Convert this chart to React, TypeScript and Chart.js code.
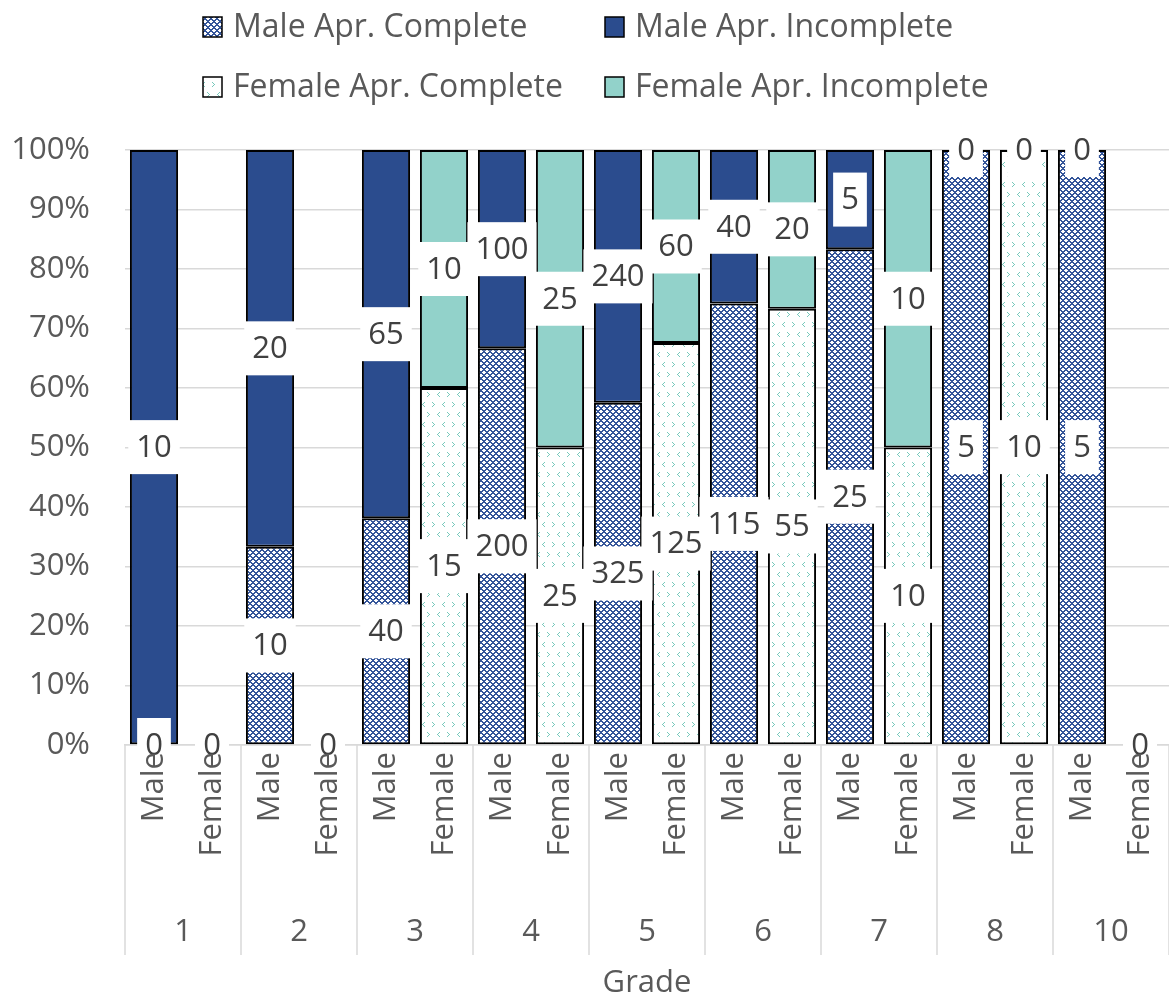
import React, { useEffect, useRef } from 'react';
import { Chart, registerables } from 'chart.js';
Chart.register(...registerables);

const grades = ['1', '2', '3', '4', '5', '6', '7', '8', '10'];
const genders = ['Male', 'Female'];
const maleComplete = [0, 10, 40, 200, 325, 115, 25, 5, 5];
const maleIncomplete = [10, 20, 65, 100, 240, 40, 5, 0, 0];
const femaleComplete = [0, 0, 15, 25, 125, 55, 10, 10, 0];
const femaleIncomplete = [0, 0, 10, 25, 60, 20, 10, 0, 0];
const seriesNames = ['Male Apr. Complete', 'Male Apr. Incomplete', 'Female Apr. Complete', 'Female Apr. Incomplete'];
const yTickStep = 10;

const FONT = '"Open Sans"';
const FS = 31;
const LEGEND_FS = 32;
const TEXT = '#595959';
const LABEL_TEXT = '#404040';
const GRID = '#D9D9D9';
const MALE_BLUE = '#2B4C8E';
const FEMALE_TEAL = '#92D2CA';

function malePattern(): CanvasPattern | string {
  const c = document.createElement('canvas');
  c.width = 6; c.height = 6;
  const g = c.getContext('2d');
  if (!g) return MALE_BLUE;
  g.fillStyle = '#ffffff';
  g.fillRect(0, 0, 6, 6);
  g.fillStyle = '#34559A';
  for (let y = 0; y < 6; y++) for (let x = 0; x < 6; x++) {
    const a = (x + y) % 6, b = (x - y + 6) % 6;
    if (a < 2 || b < 2) g.fillRect(x, y, 1, 1);
  }
  return g.createPattern(c, 'repeat') || MALE_BLUE;
}

function femalePattern(): CanvasPattern | string {
  const c = document.createElement('canvas');
  c.width = 20; c.height = 20;
  const g = c.getContext('2d');
  if (!g) return '#ffffff';
  g.fillStyle = '#ffffff';
  g.fillRect(0, 0, 20, 20);
  g.fillStyle = '#78C9BC';
  const lt = (x: number, y: number) => {
    g.fillRect(x + 2, y, 1, 1); g.fillRect(x + 1, y + 1, 1, 1); g.fillRect(x, y + 2, 1, 1);
    g.fillRect(x + 1, y + 3, 1, 1); g.fillRect(x + 2, y + 4, 1, 1);
  };
  const gt = (x: number, y: number) => {
    g.fillRect(x, y, 1, 1); g.fillRect(x + 1, y + 1, 1, 1); g.fillRect(x + 2, y + 2, 1, 1);
    g.fillRect(x + 1, y + 3, 1, 1); g.fillRect(x, y + 4, 1, 1);
  };
  lt(2, 2); gt(12, 2);
  gt(7, 12); lt(17, 12);
  return g.createPattern(c, 'repeat') || '#ffffff';
}

export default function App() {
  const ref = useRef<HTMLCanvasElement | null>(null);
  useEffect(() => {
    document.body.style.margin = '0';
    const canvas = ref.current;
    if (!canvas) return;
    const labels: string[] = [];
    const rawMC: (number | null)[] = [];
    const rawMI: (number | null)[] = [];
    const rawFC: (number | null)[] = [];
    const rawFI: (number | null)[] = [];
    grades.forEach((_, gi) => {
      genders.forEach((gd) => {
        labels.push(gd);
        if (gd === 'Male') {
          rawMC.push(maleComplete[gi]); rawMI.push(maleIncomplete[gi]);
          rawFC.push(null); rawFI.push(null);
        } else {
          rawMC.push(null); rawMI.push(null);
          rawFC.push(femaleComplete[gi]); rawFI.push(femaleIncomplete[gi]);
        }
      });
    });
    const raws = [rawMC, rawMI, rawFC, rawFI];
    const totals = labels.map((_, i) => raws.reduce((s, r) => s + (r[i] ?? 0), 0));
    const pct = (r: (number | null)[]) => r.map((v, i) => (v == null ? null : totals[i] ? (v / totals[i]) * 100 : 0));

    const mp = malePattern();
    const fp = femalePattern();
    const fills = [mp, MALE_BLUE, fp, FEMALE_TEAL];

    const font = { family: FONT, size: FS };

    const labelPlugin = {
      id: 'segLabels',
      afterDatasetsDraw(chart: any) {
        const ctx = chart.ctx;
        ctx.save();
        ctx.font = `${FS}px ${FONT}`;
        ctx.textAlign = 'center';
        ctx.textBaseline = 'middle';
        raws.forEach((r, d) => {
          const meta = chart.getDatasetMeta(d);
          r.forEach((v, i) => {
            if (v == null) return;
            const el = meta.data[i];
            if (!el) return;
            const p = el.getProps(['x', 'y', 'base'], true);
            const yc = (p.y + p.base) / 2;
            const t = String(v);
            const w = ctx.measureText(t).width + 16;
            ctx.fillStyle = '#ffffff';
            ctx.fillRect(p.x - w / 2, yc - 27, w, 54);
            ctx.fillStyle = LABEL_TEXT;
            ctx.fillText(t, p.x, yc + 1);
          });
        });
        ctx.restore();
      },
    };

    const axisPlugin = {
      id: 'multiAxis',
      afterDraw(chart: any) {
        const ctx = chart.ctx;
        const xs = chart.scales.x;
        const area = chart.chartArea;
        ctx.save();
        ctx.strokeStyle = GRID;
        ctx.lineWidth = 1.5;
        const step = xs.getPixelForValue(1) - xs.getPixelForValue(0);
        const bounds: number[] = [];
        for (let gi = 0; gi <= grades.length; gi++) {
          let bx: number;
          if (gi === 0) bx = xs.getPixelForValue(0) - step / 2;
          else if (gi === grades.length) bx = xs.getPixelForValue(labels.length - 1) + step / 2;
          else bx = (xs.getPixelForValue(gi * 2 - 1) + xs.getPixelForValue(gi * 2)) / 2;
          bounds.push(bx);
          ctx.beginPath();
          ctx.moveTo(bx, area.bottom);
          ctx.lineTo(bx, 955);
          ctx.stroke();
        }
        ctx.font = `${FS}px ${FONT}`;
        ctx.fillStyle = TEXT;
        labels.forEach((lb, i) => {
          ctx.save();
          ctx.translate(xs.getPixelForValue(i), area.bottom + 7);
          ctx.rotate(-Math.PI / 2);
          ctx.textAlign = 'right';
          ctx.textBaseline = 'middle';
          ctx.fillText(lb, 0, 0);
          ctx.restore();
        });
        ctx.textAlign = 'center';
        ctx.textBaseline = 'middle';
        grades.forEach((g, gi) => {
          ctx.fillText(g, (bounds[gi] + bounds[gi + 1]) / 2, 932);
        });
        ctx.fillText('Grade', (area.left + area.right) / 2, 983);

        // legend
        ctx.font = `${LEGEND_FS}px ${FONT}`;
        const cols = [203, 605];
        const rows = [27, 87];
        seriesNames.forEach((name, k) => {
          const x = cols[k % 2];
          const y = rows[Math.floor(k / 2)];
          ctx.fillStyle = fills[k] as any;
          ctx.fillRect(x, y - 10, 19, 20);
          ctx.strokeStyle = '#000000';
          ctx.lineWidth = 1.5;
          ctx.strokeRect(x, y - 10, 19, 20);
          ctx.fillStyle = TEXT;
          ctx.textAlign = 'left';
          ctx.fillText(name, x + 30, y + 1);
        });
        ctx.restore();
      },
    };

    const chart = new Chart(canvas, {
      type: 'bar',
      data: {
        labels,
        datasets: raws.map((r, d) => ({
          label: seriesNames[d],
          data: pct(r) as any,
          backgroundColor: fills[d] as any,
          borderColor: '#000000',
          borderWidth: 2,
          borderSkipped: false,
          barPercentage: 0.83,
          categoryPercentage: 1,
          stack: 's',
        })),
      },
      options: {
        animation: false,
        responsive: false,
        devicePixelRatio: 1,
        layout: { padding: { top: 150, left: 0, right: 0, bottom: 0 } },
        plugins: { legend: { display: false }, tooltip: { enabled: false } },
        scales: {
          x: {
            stacked: true,
            grid: { display: false, drawTicks: false },
            border: { display: true, color: GRID, width: 1.5 },
            ticks: { display: false },
            afterFit: (s: any) => { s.height = 254; s.paddingLeft = 0; s.paddingRight = 0; },
          },
          y: {
            stacked: true,
            min: 0,
            max: 100,
            grid: { color: GRID, lineWidth: 1.5, drawTicks: false },
            border: { display: false },
            ticks: { stepSize: yTickStep, padding: 35, color: TEXT, font, callback: (v: any) => `${v}%` },
            afterFit: (s: any) => { s.width = 125; },
          },
        },
      },
      plugins: [labelPlugin, axisPlugin],
    });
    return () => chart.destroy();
  }, []);
  return <canvas ref={ref} width={1169} height={999} style={{ display: 'block' }} />;
}
